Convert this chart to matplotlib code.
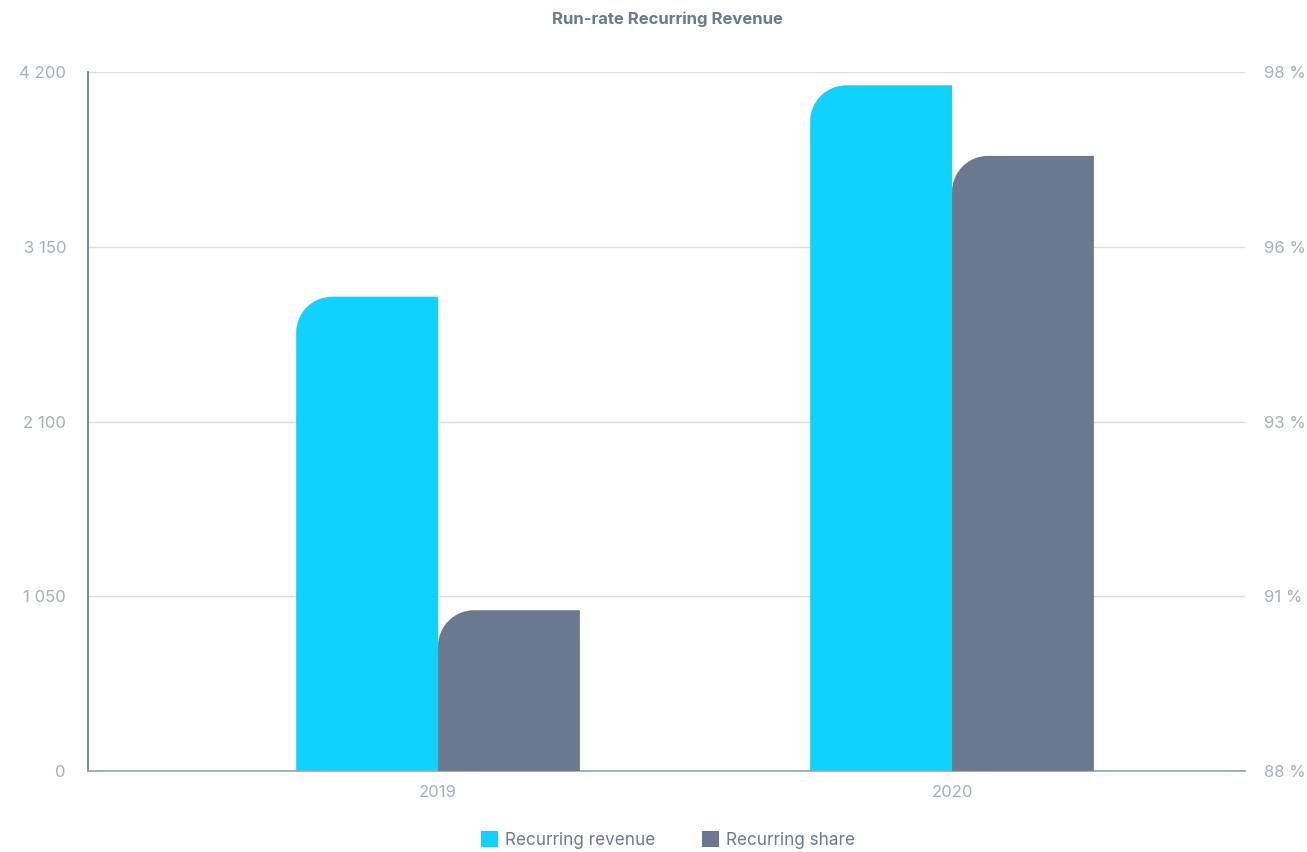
import matplotlib
matplotlib.use("Agg")
import matplotlib.pyplot as plt
from matplotlib.path import Path
from matplotlib.patches import PathPatch, Patch

years = ["2019", "2020"]
revenue = [2850, 4120]
share = [90.3, 96.8]

left_ticks = [0, 1050, 2100, 3150, 4200]
left_labels = ["0", "1 050", "2 100", "3 150", "4 200"]
right_ticks = [88, 90.5, 93, 95.5, 98]
right_labels = ["88 %", "91 %", "93 %", "96 %", "98 %"]

CYAN = "#10D2FF"
SLATE = "#6B7990"
TICK_C = "#A7AEC1"
TEXT_C = "#6B7A92"
GRID_C = "#D9DCE4"

plt.rcParams["font.family"] = ["Inter", "DejaVu Sans"]

W, H, DPI = 1307, 852, 100
PT = 72 / DPI  # points per pixel
fig = plt.figure(figsize=(W / DPI, H / DPI), dpi=DPI)
ax_l, ax_r, ax_b, ax_t = 88, 1245, 771, 72
ax = fig.add_axes([ax_l / W, (H - ax_b) / H, (ax_r - ax_l) / W, (ax_b - ax_t) / H])
ax2 = ax.twinx()

xlim = (-0.681, 1.570)
ax.set_xlim(*xlim)
ax.set_ylim(0, 4200)
ax2.set_ylim(88, 98)

px_per_x = (ax_r - ax_l) / (xlim[1] - xlim[0])
px_per_y = (ax_b - ax_t)


def rounded_bar(axis, x0, width, top, base, radius_px, color):
    lo, hi = axis.get_ylim()
    rx = radius_px / px_per_x
    ry = radius_px * (hi - lo) / px_per_y
    k = 0.5523
    x1 = x0 + width
    verts = [
        (x0, base), (x1, base), (x1, top), (x0 + rx, top),
        (x0 + rx - k * rx, top), (x0, top - ry + k * ry), (x0, top - ry),
        (x0, base), (x0, base),
    ]
    codes = [Path.MOVETO, Path.LINETO, Path.LINETO, Path.LINETO,
             Path.CURVE4, Path.CURVE4, Path.CURVE4, Path.LINETO, Path.CLOSEPOLY]
    axis.add_patch(PathPatch(Path(verts, codes), facecolor=color,
                             edgecolor="none", zorder=3))


bw = 0.276
for i, (rev, sh) in enumerate(zip(revenue, share)):
    rounded_bar(ax, i - bw, bw, rev, 0, 36, CYAN)
    rounded_bar(ax2, i, bw, sh, 88, 36, SLATE)

ax.set_yticks(left_ticks)
ax.set_yticklabels(left_labels)
ax2.set_yticks(right_ticks)
ax2.set_yticklabels(right_labels)
ax.set_xticks(range(len(years)))
ax.set_xticklabels(years)

ax.tick_params(axis="y", length=0, pad=22 * PT, labelsize=12, labelcolor=TICK_C)
ax2.tick_params(axis="y", length=0, pad=19 * PT, labelsize=12, labelcolor=TICK_C)
ax.tick_params(axis="x", length=0, pad=14 * PT, labelsize=12, labelcolor=TICK_C)

ax.grid(axis="y", color=GRID_C, linewidth=1, zorder=0)
ax.set_axisbelow(True)
for a in (ax, ax2):
    for s in ("top", "right", "left", "bottom"):
        a.spines[s].set_visible(False)
ax.spines["left"].set_visible(True)
ax.spines["left"].set_color("#6E7B96")
ax.spines["left"].set_linewidth(1.3)
ax.spines["bottom"].set_visible(True)
ax.spines["bottom"].set_color("#9DA6B8")
ax.spines["bottom"].set_linewidth(1.3)
ax.spines["bottom"].set_zorder(4)

fig.text(667 / W, 1 - 19 / H, "Run-rate Recurring Revenue", ha="center", va="center",
         fontsize=12, fontweight="bold", color=TEXT_C)

handles = [Patch(facecolor=CYAN, label="Recurring revenue"),
           Patch(facecolor=SLATE, label="Recurring share")]
fig.legend(handles=handles, loc="center", bbox_to_anchor=(668 / W, 1 - 840 / H), ncol=2,
           frameon=False, fontsize=12.3, labelcolor=TEXT_C, handlelength=1.0,
           handleheight=1.0, handletextpad=0.45, columnspacing=2.7)

fig.savefig("out.png", dpi=DPI)
